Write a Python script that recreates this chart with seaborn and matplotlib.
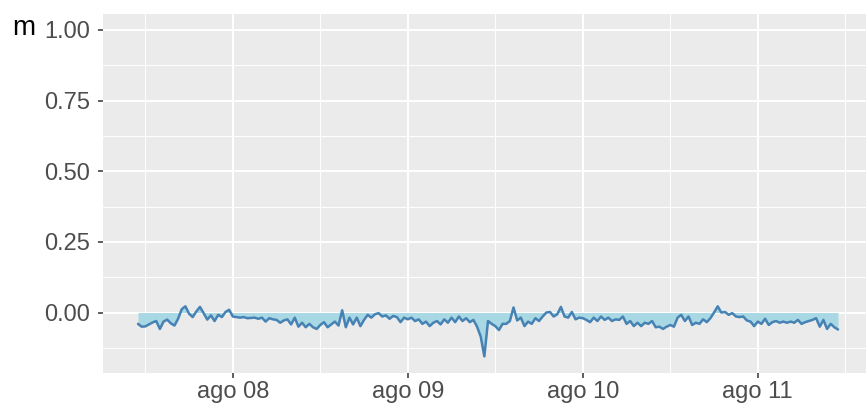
import pandas as pd
import seaborn as sns
import matplotlib.pyplot as plt
import matplotlib.dates as mdates
from matplotlib.ticker import MultipleLocator

# series: one reading every 30 minutes starting 07 Aug 11:00
start_time = "2021-08-07 11:00"
step = "30min"
m_values = [
    -0.040, -0.050, -0.049, -0.042, -0.035, -0.030, -0.058, -0.032, -0.025, -0.038,
    -0.046, -0.022, 0.012, 0.022, -0.004, -0.016, 0.004, 0.020, -0.002, -0.025,
    -0.010, -0.030, -0.008, -0.016, 0.002, 0.010, -0.014, -0.016, -0.018, -0.016,
    -0.020, -0.019, -0.018, -0.022, -0.018, -0.032, -0.020, -0.024, -0.026, -0.036,
    -0.028, -0.024, -0.042, -0.018, -0.050, -0.036, -0.052, -0.040, -0.052, -0.058,
    -0.044, -0.034, -0.052, -0.042, -0.032, -0.046, 0.008, -0.052, -0.018, -0.042,
    -0.018, -0.048, -0.026, -0.008, -0.018, -0.006, -0.002, -0.014, -0.010, -0.022,
    -0.012, -0.016, -0.034, -0.018, -0.024, -0.018, -0.030, -0.024, -0.040, -0.032,
    -0.048, -0.036, -0.030, -0.042, -0.024, -0.036, -0.018, -0.034, -0.014, -0.030,
    -0.020, -0.034, -0.026, -0.050, -0.085, -0.155, -0.030, -0.040, -0.048, -0.062,
    -0.040, -0.040, -0.030, 0.018, -0.028, -0.018, -0.048, -0.032, -0.040, -0.020,
    -0.030, -0.014, 0.000, 0.002, -0.014, -0.006, 0.020, -0.014, -0.018, 0.002,
    -0.024, -0.018, -0.020, -0.026, -0.034, -0.018, -0.030, -0.014, -0.026, -0.018,
    -0.030, -0.024, -0.026, -0.014, -0.040, -0.030, -0.048, -0.036, -0.048, -0.036,
    -0.040, -0.030, -0.052, -0.050, -0.058, -0.050, -0.044, -0.050, -0.018, -0.008,
    -0.030, -0.014, -0.044, -0.036, -0.040, -0.024, -0.034, -0.020, 0.000, 0.022,
    0.000, 0.002, -0.008, -0.002, -0.014, -0.016, -0.014, -0.028, -0.032, -0.048,
    -0.032, -0.040, -0.022, -0.044, -0.034, -0.030, -0.036, -0.032, -0.036, -0.032,
    -0.036, -0.026, -0.040, -0.034, -0.030, -0.026, -0.020, -0.050, -0.026, -0.058,
    -0.040, -0.052, -0.060,
]

tick_dates = ["2021-08-08", "2021-08-09", "2021-08-10", "2021-08-11"]
tick_labels = ["ago 08", "ago 09", "ago 10", "ago 11"]
y_ticks = [0.00, 0.25, 0.50, 0.75, 1.00]
y_tick_labels = ["0.00", "0.25", "0.50", "0.75", "1.00"]

df = pd.DataFrame({
    "time": pd.date_range(start_time, periods=len(m_values), freq=step),
    "m": m_values,
})

sns.set_theme(style="darkgrid", rc={
    "axes.facecolor": "#EBEBEB",
    "grid.color": "white",
    "axes.edgecolor": "#EBEBEB",
    "xtick.bottom": True,
    "ytick.left": True,
    "xtick.major.size": 3.6,
    "ytick.major.size": 3.6,
    "xtick.major.width": 1.1,
    "ytick.major.width": 1.1,
    "xtick.color": "#333333",
    "ytick.color": "#333333",
    "xtick.direction": "out",
    "ytick.direction": "out",
})
plt.rcParams["font.family"] = ["Liberation Sans", "DejaVu Sans"]

fig = plt.figure(figsize=(8.66, 4.05), dpi=100)
ax = fig.add_axes([103 / 866, 32.3 / 405, 770 / 866, 359.2 / 405])

# ribbon between zero and the series, then the line on top
ax.fill_between(df["time"], 0, df["m"], color="#A8D8E4", linewidth=0, zorder=2)
sns.lineplot(data=df, x="time", y="m", color="#4682B4", linewidth=1.8, ax=ax, zorder=3)

# ggplot-like 5% expansion
t0, t1 = df["time"].min(), df["time"].max()
pad_t = (t1 - t0) * 0.05
ax.set_xlim(t0 - pad_t, t1 + pad_t)
lo, hi = min(df["m"].min(), 0.0), 1.0
pad_y = (hi - lo) * 0.05
ax.set_ylim(lo - pad_y, hi + pad_y)

ax.set_xticks(pd.to_datetime(tick_dates))
ax.set_xticklabels(tick_labels)
ax.xaxis.set_minor_locator(mdates.HourLocator(byhour=12))
ax.set_yticks(y_ticks)
ax.set_yticklabels(y_tick_labels)
ax.yaxis.set_minor_locator(MultipleLocator(0.125))

ax.grid(which="major", color="white", linewidth=1.4)
ax.grid(which="minor", color="white", linewidth=0.7)
ax.set_axisbelow(True)
for s in ax.spines.values():
    s.set_visible(False)

ax.tick_params(axis="both", which="major", labelcolor="#4D4D4D", labelsize=17)
ax.tick_params(axis="y", which="major", pad=5.5)
ax.tick_params(axis="x", which="major", pad=2.5)
ax.tick_params(axis="both", which="minor", length=0)

ax.set_xlabel("")
ax.set_ylabel("m", rotation=0, fontsize=20, color="black", ha="left", va="baseline")
ax.yaxis.set_label_coords(-0.118, 0.94)

fig.savefig("out.png", dpi=100)
